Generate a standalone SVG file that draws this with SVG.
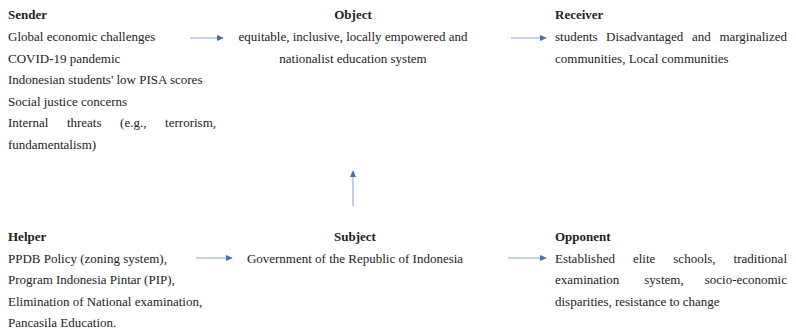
<svg xmlns="http://www.w3.org/2000/svg" width="796" height="336" viewBox="0 0 796 336">
  <style>
    text { font-size: 13px; fill: #222; }
    .serif { font-family: 'Liberation Serif', serif; }
    .title { font-weight: bold; }
    .mid { text-anchor: middle; }
    .end { text-anchor: end; }
    .link { stroke: #8aa3c6; stroke-width: 1; fill: none; }
  </style>
  <defs>
    <marker id="arrow" viewBox="0 0 8 8" refX="7" refY="4" markerWidth="7" markerHeight="7" markerUnits="userSpaceOnUse" orient="auto">
      <path d="M0,0.5 L8,4 L0,7.5 Z" fill="#4670aa"/>
    </marker>
  </defs>

  <rect width="796" height="336" fill="#ffffff"/>

  <g id="connectors">
    <line class="link" x1="190" y1="38" x2="223" y2="38" marker-end="url(#arrow)"/>
    <line class="link" x1="511" y1="38" x2="546" y2="38" marker-end="url(#arrow)"/>
    <line class="link" x1="196" y1="258" x2="232" y2="258" marker-end="url(#arrow)"/>
    <line class="link" x1="508" y1="258" x2="546" y2="258" marker-end="url(#arrow)"/>
    <line class="link" x1="353" y1="206" x2="353" y2="171" marker-end="url(#arrow)"/>
  </g>

  <g id="sender" font-family="Liberation Serif">
    <text class="serif title" x="8" y="19">Sender</text>
    <text class="serif" x="8" y="41">Global economic challenges</text>
    <text class="serif" x="8" y="62.5">COVID-19 pandemic</text>
    <text class="serif" x="8" y="84">Indonesian students' low PISA scores</text>
    <text class="serif" x="8" y="105.5">Social justice concerns</text>
    <text class="serif" y="127"><tspan x="8">Internal</tspan><tspan x="66.9">threats</tspan><tspan x="120.1">(e.g.,</tspan></text>
    <text class="serif end" x="216" y="127">terrorism,</text>
    <text class="serif" x="8" y="148.5">fundamentalism)</text>
  </g>

  <g id="object" font-family="Liberation Serif">
    <text class="serif title mid" x="353" y="19">Object</text>
    <text class="serif mid" x="353" y="41">equitable, inclusive, locally empowered and</text>
    <text class="serif mid" x="353" y="62.5">nationalist education system</text>
  </g>

  <g id="receiver" font-family="Liberation Serif">
    <text class="serif title" x="555" y="19">Receiver</text>
    <text class="serif" y="41"><tspan x="555">students</tspan><tspan x="606.1">Disadvantaged</tspan><tspan x="691.9">and</tspan></text>
    <text class="serif end" x="787" y="41">marginalized</text>
    <text class="serif" x="555" y="62.5">communities, Local communities</text>
  </g>

  <g id="helper" font-family="Liberation Serif">
    <text class="serif title" x="8" y="241">Helper</text>
    <text class="serif" x="8" y="262.5">PPDB Policy (zoning system),</text>
    <text class="serif" x="8" y="284">Program Indonesia Pintar (PIP),</text>
    <text class="serif" x="8" y="305.5">Elimination of National examination,</text>
    <text class="serif" x="8" y="327">Pancasila Education.</text>
  </g>

  <g id="subject" font-family="Liberation Serif">
    <text class="serif title mid" x="355" y="241">Subject</text>
    <text class="serif mid" x="355" y="262.5">Government of the Republic of Indonesia</text>
  </g>

  <g id="opponent" font-family="Liberation Serif">
    <text class="serif title" x="555" y="241">Opponent</text>
    <text class="serif" y="262.5"><tspan x="555">Established</tspan><tspan x="632.9">elite</tspan><tspan x="673.3">schools,</tspan></text>
    <text class="serif end" x="787" y="262.5">traditional</text>
    <text class="serif" y="284"><tspan x="555">examination</tspan><tspan x="644.3">system,</tspan></text>
    <text class="serif end" x="787" y="284">socio-economic</text>
    <text class="serif" x="555" y="305.5">disparities, resistance to change</text>
  </g>
</svg>
